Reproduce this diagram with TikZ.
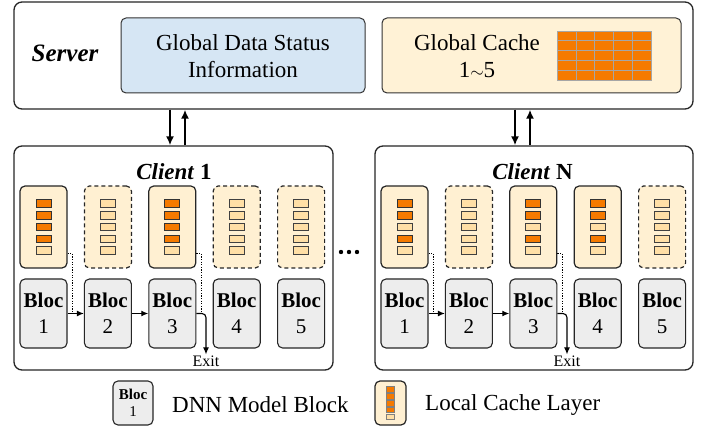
\documentclass[tikz,border=0pt]{standalone}
\usepackage{fontspec}
\setmainfont{Liberation Serif}
\usetikzlibrary{arrows.meta,calc}
\definecolor{bluefill}{HTML}{D6E6F4}
\definecolor{creamfill}{HTML}{FFF2D6}
\definecolor{cachefill}{HTML}{FFF0D2}
\definecolor{orng}{HTML}{F57A00}
\definecolor{lightbar}{HTML}{FFDFA6}
\definecolor{blocfill}{HTML}{EDEDED}
\begin{document}
\begin{tikzpicture}[x=1pt,y=-1pt,
  bigbox/.style={draw=black!85,line width=1.3pt,rounded corners=8pt,fill=white},
  innerbox/.style={draw=black!80,line width=1pt,rounded corners=5pt},
  cachebox/.style={draw=black!85,line width=1.2pt,rounded corners=5pt,fill=cachefill,minimum width=47pt,minimum height=82pt,inner sep=0pt},
  dashbox/.style={dash pattern=on 4pt off 3pt},
  baro/.style={draw=black!80,line width=0.7pt,fill=orng,minimum width=15pt,minimum height=7.5pt,inner sep=0pt},
  barl/.style={draw=black!75,line width=0.7pt,fill=lightbar,minimum width=15pt,minimum height=7.5pt,inner sep=0pt},
  bloc/.style={draw=black!85,line width=1.1pt,rounded corners=5pt,fill=blocfill,minimum width=47pt,minimum height=69pt,inner sep=0pt,align=center,font=\fontsize{21}{26}\selectfont},
  gcell/.style={draw=gray!70,line width=0.6pt,fill=orng,minimum width=18.8pt,minimum height=9.8pt,inner sep=0pt},
  arr/.style={line width=1.1pt,-{Latex[length=7pt,width=6pt]}},
  bigarr/.style={line width=2pt,-{Latex[length=9pt,width=8pt]}},
  dotline/.style={line width=1.1pt,dash pattern=on 1.2pt off 1.4pt},
  exitlbl/.style={font=\fontsize{16}{18}\selectfont,inner sep=1pt},
  txt/.style={font=\fontsize{23}{27}\selectfont,align=center}
]
\useasboundingbox (0,0) rectangle (715,430);

% server
\node[bigbox,minimum width=679pt,minimum height=107pt] (server) at (353.5,55.5) {};
\node[font=\fontsize{25}{28}\selectfont\bfseries\itshape] (srvlbl) at (65,53) {Server};
\node[innerbox,fill=bluefill,minimum width=244pt,minimum height=75pt] (gdsi) at (243,55.5) {};
\node[txt] (gdsitxt) at (243,56) {Global Data Status\\Information};
\node[innerbox,fill=creamfill,minimum width=299pt,minimum height=75pt] (gc) at (531.5,55.5) {};
\node[txt] (gctxt) at (477,56) {Global Cache\\1{\fontsize{18}{20}\selectfont$\sim$}5};
\foreach \r in {0,...,4}{
  \foreach \c in {0,...,4}{
    \node[gcell] (g\r\c) at ({557+18.8*\c+9.4},{31+9.8*\r+4.9}) {};
  }
}

% clients
\node[bigbox,minimum width=319pt,minimum height=224pt] (cl1) at (173.5,258) {};
\node[bigbox,minimum width=318pt,minimum height=224pt] (clN) at (534,258) {};
\node[font=\fontsize{23}{27}\selectfont\bfseries] (cl1t) at (174,172) {\textit{Client} 1};
\node[font=\fontsize{23}{27}\selectfont\bfseries] (clNt) at (532.5,172) {\textit{Client} N};

% server-client arrows
\coordinate (a1) at (170,0);
\coordinate (a2) at (185,0);
\coordinate (a3) at (515,0);
\coordinate (a4) at (530,0);
\draw[bigarr] (server.south -| a1) -- (cl1.north -| a1);
\draw[bigarr] (cl1.north -| a2) -- (server.south -| a2);
\draw[bigarr] (server.south -| a3) -- (clN.north -| a3);
\draw[bigarr] (clN.north -| a4) -- (server.south -| a4);

% client 1 columns
\foreach \i/\st/\pa/\pb/\pc/\pd/\pe in {1/solid/o/o/o/o/l,2/dashbox/l/l/l/l/l,3/solid/o/o/o/o/l,4/dashbox/l/l/l/l/l,5/dashbox/l/l/l/l/l}{
  \node[cachebox,\st] (ca\i) at ({43.5+64.4*(\i-1)},227) {};
  \foreach \q [count=\k] in {\pa,\pb,\pc,\pd,\pe}{
    \node[bar\q] (ca\i-\k) at ({43.5+64.4*(\i-1)},{227+11.7*(\k-3)}) {};
  }
  \node[bloc] (ba\i) at ({43.5+64.4*(\i-1)},313.5) {\textbf{Bloc}\\\i};
}
% client N columns
\foreach \i/\st/\pa/\pb/\pc/\pd/\pe in {1/solid/o/o/l/o/l,2/dashbox/l/l/l/l/l,3/solid/o/o/l/o/l,4/solid/o/o/l/o/l,5/dashbox/l/l/l/l/l}{
  \node[cachebox,\st] (cn\i) at ({404.5+64.4*(\i-1)},227) {};
  \foreach \q [count=\k] in {\pa,\pb,\pc,\pd,\pe}{
    \node[bar\q] (cn\i-\k) at ({404.5+64.4*(\i-1)},{227+11.7*(\k-3)}) {};
  }
  \node[bloc] (bn\i) at ({404.5+64.4*(\i-1)},313.5) {\textbf{Bloc}\\\i};
}

% flows client 1
\draw[arr] (ba1) -- (ba2);
\draw[arr] (ba2) -- (ba3);
\draw[dotline] ([yshift=15pt]ca1.south east) -| ($(ba1.east)+(5,0)$);
\draw[dotline] ([yshift=15pt]ca3.south east) -| ($(ba3.east)+(5,0)$);
\node[exitlbl] (ea) at (206,361) {Exit};
\draw[arr,rounded corners=4pt] (ba3.east) -| (ea.north);
% flows client N
\draw[arr] (bn1) -- (bn2);
\draw[arr] (bn2) -- (bn3);
\draw[dotline] ([yshift=15pt]cn1.south east) -| ($(bn1.east)+(5,0)$);
\draw[dotline] ([yshift=15pt]cn3.south east) -| ($(bn3.east)+(5,0)$);
\node[exitlbl] (en) at (567,361) {Exit};
\draw[arr,rounded corners=4pt] (bn3.east) -| (en.north);

% dots
\fill (341,252) circle (2.2);
\fill (349,252) circle (2.2);
\fill (357,252) circle (2.2);

% legend
\node[bloc,minimum width=40pt,minimum height=44pt,font=\fontsize{15}{17}\selectfont] (lb) at (133,403) {\textbf{Bloc}\\1};
\node[txt,anchor=west,inner sep=0pt] (lbt) at (172,405) {DNN Model Block};
\node[cachebox,minimum width=31pt,minimum height=44pt] (lc) at (390.5,403) {};
\foreach \q [count=\k] in {o,o,o,o,l}{
  \node[bar\q,minimum width=8pt,minimum height=5.5pt,draw=gray] (lc-\k) at (390,{389.5+6.8*(\k-1)}) {};
}
\node[txt,anchor=west,inner sep=0pt] (lct) at (425,405) {Local Cache Layer};
\end{tikzpicture}
\end{document}
